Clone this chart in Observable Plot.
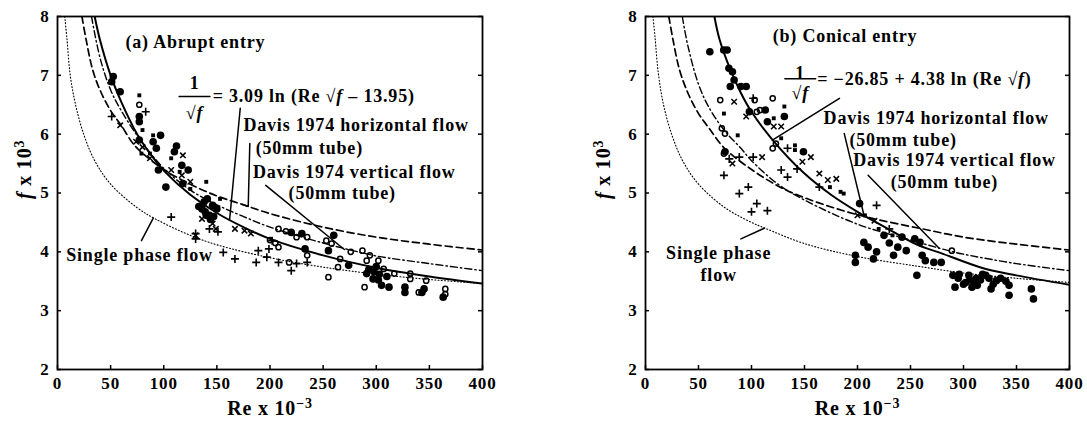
<!DOCTYPE html>
<html><head><meta charset="utf-8">
<script src="https://cdn.jsdelivr.net/npm/d3@7"></script>
<script src="https://cdn.jsdelivr.net/npm/@observablehq/plot@0.6"></script>
<style>
body{margin:0;background:#fff;}
#row{display:flex;width:1087px;height:427px;overflow:hidden;}
</style></head><body><div id="row"></div>
<script>
// ---- axes ----
const xTicks = [0, 50, 100, 150, 200, 250, 300, 350, 400];
const yTicks = [2, 3, 4, 5, 6, 7, 8];
const xLabel = "Re x 10^−3^";
const yLabel = "*f* x 10^3^";

// ---- panel (a) curves: [Re x 10^-3, f x 10^3] ----
const aCorrelation = [[35,8.0],[40,7.6],[50,7.0],[60,6.55],[75,6.0],[90,5.6],[100,5.38],[125,4.97],[150,4.66],[175,4.42],[200,4.22],[250,3.94],[300,3.73],[350,3.58],[400,3.46]];
const aDavisHorizontal = [[23,8.0],[27,7.6],[33,7.1],[40,6.75],[50,6.4],[60,6.15],[73,5.8],[100,5.4],[125,5.15],[150,4.95],[175,4.8],[200,4.65],[250,4.42],[300,4.25],[350,4.13],[400,4.03]];
const aDavisVertical = [[32,8.0],[40,7.3],[50,6.75],[60,6.4],[78,5.9],[100,5.42],[125,5.05],[150,4.8],[175,4.6],[200,4.42],[250,4.15],[276,4.03],[300,3.93],[350,3.8],[400,3.68]];
const aSinglePhase = [[6.8,8.0],[9,7.6],[12,7.0],[17,6.5],[25,5.98],[35,5.55],[50,5.15],[75,4.75],[92,4.56],[125,4.28],[150,4.12],[200,3.9],[250,3.74],[300,3.62],[350,3.53],[400,3.46]];

// ---- panel (a) data points ----
const aFilled = [[52.5,6.98],[51,6.89],[59,6.72],[77,6.3],[77,6.21],[77,5.9],[90,5.87],[97,5.98],[93,5.76],[95,5.39],[102,5.1],[112,5.8],[110,5.7],[117,5.47],[118,5.16],[123,5.39],[136,4.73],[141,4.9],[143,4.62],[146,4.79],[150,4.73],[138,4.85],[140,4.62],[144,4.55],[139,4.68],[147,4.6],[133,4.77],[220,4.33],[230,4.31],[233,4.05],[255,4.02],[260,4.28],[274,3.77],[291,3.63],[297,3.54],[305,3.43],[312,3.4],[327,3.4],[327,3.31],[343,3.31],[345,3.37],[363,3.23],[302,3.52],[293,3.7],[298,3.66],[303,3.62],[310,3.58],[300,3.75]];
const aOpen = [[77,6.5],[208,4.39],[208,4.08],[218,3.82],[235,3.94],[235,4.25],[253,4.19],[258,4.14],[266,3.88],[276,4.0],[287,4.02],[291,3.85],[294,3.94],[255,3.57],[264,3.74],[289,3.4],[307,3.71],[332,3.54],[347,3.51],[365,3.37],[365,3.28],[340,3.31],[332,3.63],[317,3.63],[302,3.85],[200,4.2],[205,4.15],[215,4.35],[225,4.25]];
const aCross = [[59,6.15],[80,5.78],[87,5.59],[107,5.39],[117,5.3],[125,5.19],[136,4.56],[146,4.48],[167,4.39],[176,4.36],[182,4.31],[130,4.28],[74,5.87],[118,5.64],[149,4.39]];
const aPlus = [[130,4.22],[107,4.59],[156,3.99],[167,3.88],[187,3.82],[197,3.91],[208,3.82],[220,3.68],[225,3.8],[235,3.82],[189,4.02],[199,4.05],[202,4.19],[130,4.31],[51,6.3],[83,6.38],[143,4.39],[151,4.34]];
const aSquare = [[77,6.66],[79,5.67],[87,5.67],[115,5.36],[140,5.19],[153,4.9],[125,5.07],[80,6.07],[90,5.98],[107,5.59]];

// ---- panel (a) annotations ----
const aTexts = [
  {x:64, y:7.57, text:"(a) Abrupt entry", anchor:"start"},
  {x:129, y:6.86, text:"1", anchor:"middle"},
  {x:129, y:6.35, text:"√*f*", anchor:"middle"},
  {x:146, y:6.64, text:"= 3.09 ln (Re √*f* – 13.95)", anchor:"start"},
  {x:175, y:6.15, text:"Davis 1974 horizontal flow", anchor:"start"},
  {x:237, y:5.76, text:"(50mm tube)", anchor:"middle"},
  {x:184, y:5.36, text:"Davis 1974 vertical flow", anchor:"start"},
  {x:268, y:4.99, text:"(50mm tube)", anchor:"middle"},
  {x:8.2, y:3.94, text:"Single phase flow", anchor:"start"}
];
const aPointers = [
  {id:"bar", pts:[[114.5,6.64],[143.5,6.64]]},
  {id:"corr", pts:[[172,6.44],[162,4.55]]},
  {id:"horiz", pts:[[181,5.84],[179.5,4.77],[173.5,4.81]]},
  {id:"vert", pts:[[196,5.13],[270,4.04]]},
  {id:"single", pts:[[79,4.19],[90,4.57]]}
];

// ---- panel (b) curves ----
const bCorrelation = [[65,8.0],[70,7.6],[80,7.1],[90,6.7],[100,6.38],[120,5.9],[150,5.33],[175,4.97],[200,4.68],[225,4.43],[255,4.13],[280,3.97],[317,3.73],[350,3.6],[400,3.44]];
const bDavisHorizontal = [[22,8.0],[26,7.6],[32,7.1],[40,6.7],[50,6.35],[60,6.1],[74.5,5.76],[100,5.4],[125,5.12],[150,4.92],[200,4.63],[264,4.38],[300,4.25],[350,4.13],[400,4.03]];
const bDavisVertical = [[34.7,8.0],[40,7.5],[50,6.85],[60,6.45],[75,6.05],[90,5.76],[100,5.55],[125,5.15],[150,4.88],[200,4.47],[250,4.2],[286,4.02],[300,3.96],[350,3.8],[400,3.68]];
const bSinglePhase = [[7,8.0],[9,7.65],[12,7.05],[17,6.5],[25,5.98],[35,5.55],[50,5.15],[75,4.75],[100,4.5],[113,4.4],[150,4.14],[200,3.92],[255,3.76],[300,3.64],[350,3.55],[400,3.48]];

// ---- panel (b) data points ----
const bFilled = [[60.7,7.4],[73.8,7.43],[77,7.43],[78.7,7.12],[82,7.06],[83.6,6.92],[80,6.81],[90,6.81],[95,6.81],[75,5.7],[98,6.38],[113,6.41],[115,6.21],[131,6.3],[149,5.7],[202,4.82],[206,4.16],[210,4.08],[218,4.0],[225,4.28],[234,3.94],[238,4.08],[246,4.02],[254,4.22],[259,4.16],[261,3.94],[256,3.6],[264,3.85],[272,3.82],[279,3.82],[290,3.6],[292,3.4],[302,3.48],[305,3.6],[308,3.4],[313,3.43],[321,3.6],[326,3.37],[331,3.51],[343,3.43],[343,3.26],[364,3.37],[366,3.2],[198,3.82],[198,3.94],[215,3.88],[230,4.15],[242,4.25],[312,3.55],[296,3.62],[295,3.55],[300,3.45],[306,3.52],[310,3.46],[316,3.52],[318,3.62],[324,3.55],[328,3.45],[335,3.55],[340,3.5]];
const bOpen = [[70.5,6.58],[72,6.1],[108,6.41],[120,6.61],[120,5.76],[74,5.67],[75,6.01],[105,6.38],[123,5.84],[289,4.02],[103,6.58]];
const bCross = [[83.6,6.55],[95,6.3],[110,5.61],[121,6.13],[128,6.13],[156,5.61],[164,5.33],[172,5.22],[180,5.24],[82,5.5],[148,5.53],[200,4.62],[216,4.53]];
const bPlus = [[74,5.3],[79,5.58],[88.5,5.61],[101.6,5.61],[88.5,4.99],[97,5.1],[100,4.68],[105,4.82],[115,4.7],[128,5.39],[134,5.27],[143,5.41],[164,5.1],[218,4.79],[230,4.39],[101.6,6.61],[134,5.76]];
const bSquare = [[74,6.35],[87,5.98],[131,6.47],[141,5.81],[141,5.73],[121,6.27],[128,5.93],[174,5.1],[184,5.02],[187,4.99],[207,4.62],[220,4.39],[233,4.28]];

// ---- panel (b) annotations ----
const bTexts = [
  {x:120, y:7.66, text:"(b) Conical entry", anchor:"start"},
  {x:146, y:7.03, text:"1", anchor:"middle"},
  {x:146, y:6.69, text:"√*f*", anchor:"middle"},
  {x:162, y:6.94, text:"= −26.85 + 4.38 ln (Re √*f*)", anchor:"start"},
  {x:168, y:6.27, text:"Davis 1974 horizontal flow", anchor:"start"},
  {x:243, y:5.9, text:"(50mm tube)", anchor:"middle"},
  {x:196, y:5.56, text:"Davis 1974 vertical flow", anchor:"start"},
  {x:282, y:5.19, text:"(50mm tube)", anchor:"middle"},
  {x:69, y:3.97, text:"Single phase", anchor:"middle"},
  {x:69, y:3.6, text:"flow", anchor:"middle"}
];
const bPointers = [
  {id:"bar", pts:[[131.5,6.94],[160.5,6.94]]},
  {id:"corr", pts:[[183,6.61],[119.7,5.9]]},
  {id:"horiz", pts:[[187.5,6.01],[206,4.63]]},
  {id:"vert", pts:[[210,5.3],[277,4.06]]},
  {id:"single", pts:[[90,4.22],[112,4.4]]}
];

const FONT = "'Liberation Serif', 'Times New Roman', serif";

function rows(pointers){
  const r = [];
  pointers.forEach(p => p.pts.forEach(q => r.push({id:p.id, x:q[0], y:q[1]})));
  return r;
}

function richify(svg){
  svg.querySelectorAll("text").forEach(t => {
    const s = t.textContent;
    if (!/[*^]/.test(s)) return;
    const html = s
      .replace(/\*([^*]+)\*/g, '<tspan font-style="italic">$1</tspan>')
      .replace(/\^([^^]+)\^/g, '<tspan baseline-shift="super" font-size="70%">$1</tspan>');
    t.innerHTML = html;
  });
}

function panel(cfg){
  const fw = cfg.width - cfg.ml - cfg.mr;
  const fh = 427 - 16 - 58;
  const xy = {x: d => d[0], y: d => d[1]};
  const txt = {x: "x", y: "y", text: "text", fontSize: 18, fontWeight: "bold", fill: "#000"};
  const svg = Plot.plot({
    width: cfg.width, height: 427,
    marginLeft: cfg.ml, marginRight: cfg.mr, marginTop: 16, marginBottom: 58,
    x: {domain: [0, 400]},
    y: {domain: [2, 8]},
    style: {fontFamily: FONT, fontWeight: "bold", fontSize: "17px", background: "#fff", color: "#000", overflow: "visible"},
    marks: [
      Plot.axisX({ticks: xTicks, tickFormat: d => String(d), tickSize: 0, tickPadding: 7, label: null, fontSize: 17, fontWeight: "bold"}),
      Plot.axisY({ticks: yTicks, tickFormat: d => String(d), tickSize: 0, tickPadding: 8, label: null, fontSize: 17, fontWeight: "bold"}),
      // inward tick marks
      Plot.ruleY(yTicks, {y: d => d, insetRight: fw - 4, stroke: "#000", strokeWidth: 1.5}),
      Plot.ruleY(yTicks, {y: d => d, insetLeft: fw - 4, stroke: "#000", strokeWidth: 1.5}),
      Plot.ruleX(xTicks, {x: d => d, insetTop: fh - 4, stroke: "#000", strokeWidth: 1.5}),
      // curves
      Plot.line(cfg.single, {...xy, curve: "catmull-rom", stroke: "#000", strokeWidth: 1.1, strokeDasharray: "1,2.2", clip: true}),
      Plot.line(cfg.horiz, {...xy, curve: "catmull-rom", stroke: "#000", strokeWidth: 1.7, strokeDasharray: "7,4", clip: true}),
      Plot.line(cfg.vert, {...xy, curve: "catmull-rom", stroke: "#000", strokeWidth: 1.4, strokeDasharray: "7,3,1.5,3", clip: true}),
      Plot.line(cfg.corr, {...xy, curve: "catmull-rom", stroke: "#000", strokeWidth: 2, clip: true}),
      // data
      Plot.dot(cfg.filled, {...xy, r: 3.8, fill: "#000", stroke: "none"}),
      Plot.dot(cfg.open, {...xy, r: 2.6, fill: "none", stroke: "#000", strokeWidth: 1.5}),
      Plot.dot(cfg.cross, {...xy, symbol: "times", r: 2.6, stroke: "#000", strokeWidth: 1.5}),
      Plot.dot(cfg.plus, {...xy, symbol: "plus", r: 2.7, stroke: "#000", strokeWidth: 1.6}),
      Plot.dot(cfg.square, {...xy, symbol: "square", r: 2.2, fill: "#000", stroke: "none"}),
      // pointers and fraction bar
      Plot.line(rows(cfg.pointers), {x: "x", y: "y", z: "id", stroke: "#000", strokeWidth: 1.5}),
      // annotation texts
      Plot.text(cfg.texts.filter(d => d.anchor === "start"), {...txt, textAnchor: "start"}),
      Plot.text(cfg.texts.filter(d => d.anchor === "middle"), {...txt, textAnchor: "middle"}),
      // axis titles
      Plot.text([xLabel], {text: d => d, frameAnchor: "bottom", dy: 45, fontSize: 20, fontWeight: "bold", fill: "#000"}),
      Plot.text([yLabel], {text: d => d, frameAnchor: "left", dx: -cfg.ylabOffset, dy: 6, rotate: -90, fontSize: 20, fontWeight: "bold", fill: "#000"}),
      Plot.frame({stroke: "#000", strokeWidth: 1.8})
    ]
  });
  svg.style.letterSpacing = "0.8px";
  richify(svg);
  return svg;
}

const row = document.getElementById("row");
row.appendChild(panel({
  width: 545, ml: 57, mr: 63, ylabOffset: 33,
  corr: aCorrelation, horiz: aDavisHorizontal, vert: aDavisVertical, single: aSinglePhase,
  filled: aFilled, open: aOpen, cross: aCross, plus: aPlus, square: aSquare,
  texts: aTexts, pointers: aPointers
}));
row.appendChild(panel({
  width: 542, ml: 100, mr: 18, ylabOffset: 42,
  corr: bCorrelation, horiz: bDavisHorizontal, vert: bDavisVertical, single: bSinglePhase,
  filled: bFilled, open: bOpen, cross: bCross, plus: bPlus, square: bSquare,
  texts: bTexts, pointers: bPointers
}));
</script>
</body></html>
